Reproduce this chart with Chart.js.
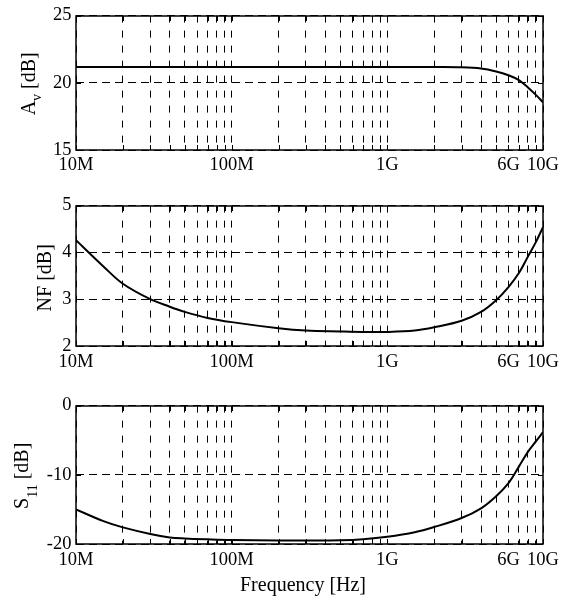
<!DOCTYPE html>
<html><head><meta charset="utf-8">
<script src="https://cdn.jsdelivr.net/npm/chart.js@4.4.1/dist/chart.umd.min.js"></script>
<style>
html,body{margin:0;padding:0;background:#fff;}
#wrap{position:relative;width:574px;height:597px;overflow:hidden;}
canvas{position:absolute;left:0;}
</style></head><body>
<div id="wrap">
<canvas id="c1" width="574" height="190" style="top:0px"></canvas>
<canvas id="c2" width="574" height="200" style="top:190px"></canvas>
<canvas id="c3" width="574" height="207" style="top:390px"></canvas>
</div>
<script>
// ---- data ----
const freqHz = [1e7,1.5e7,2e7,3e7,4e7,5e7,7e7,1e8,2e8,3e8,5e8,7e8,1e9,1.5e9,2e9,3e9,4e9,5e9,6e9,7e9,8e9,9e9,1e10];
const gainAv = [21.18,21.18,21.18,21.18,21.18,21.18,21.18,21.18,21.18,21.18,21.18,21.18,21.18,21.18,21.17,21.15,21.06,20.84,20.56,20.2,19.65,19.1,18.55];
const noiseFigure = [4.26,3.70,3.33,3.00,2.84,2.73,2.60,2.51,2.38,2.33,2.31,2.30,2.30,2.33,2.40,2.54,2.73,2.98,3.26,3.56,3.91,4.22,4.54];
const s11 = [-15.0,-16.7,-17.6,-18.55,-19.05,-19.2,-19.33,-19.43,-19.48,-19.48,-19.45,-19.3,-18.95,-18.3,-17.55,-16.25,-14.84,-13.09,-11.2,-8.82,-6.69,-5.17,-3.84];

const xGridValues = [1e7,2e7,3e7,4e7,5e7,6e7,7e7,8e7,9e7,1e8,2e8,3e8,4e8,5e8,6e8,7e8,8e8,9e8,1e9,2e9,3e9,4e9,5e9,6e9,7e9,8e9,9e9,1e10];
const xLabelValues = [1e7,1e8,1e9,6e9,1e10];
const xLabelTexts = ['10M','100M','1G','6G','10G'];
const avTicks = [15,20,25];
const nfTicks = [2,3,4,5];
const s11Ticks = [-20,-10,0];

const FONT = '"Liberation Serif","Times New Roman",Times,serif';

// title layouts kept outside Chart.js options
const TITLES = {
  c1: { x: 35, dy: 1, segs: [ ['A',20,0], ['v',14,6], [' [dB]',20,0] ] },
  c2: { x: 51, dy: 2, segs: [ ['NF [dB]',20,0] ] },
  c3: { x: 28, dy: 1, segs: [ ['S',20,0], ['11',14,9], [' [dB]',20,0] ],
        xtitle: 'Frequency [Hz]', xtitleX: 303, xtitleY: 201 }
};

function drawRotTitle(ctx, x, cy, segs){
  const widths = [];
  let w = 0;
  for (const s of segs){ ctx.font = s[1]+'px '+FONT; const m = ctx.measureText(s[0]).width; widths.push(m); w += m; }
  ctx.save();
  ctx.translate(x, cy);
  ctx.rotate(-Math.PI/2);
  ctx.fillStyle = '#000';
  ctx.textBaseline = 'alphabetic';
  ctx.textAlign = 'left';
  let px = -w/2;
  segs.forEach((s,i)=>{ ctx.font = s[1]+'px '+FONT; ctx.fillText(s[0], px, s[2]); px += widths[i]; });
  ctx.restore();
}

const framePlugin = {
  id: 'frame',
  afterDatasetsDraw(chart){
    const {ctx, chartArea:a, scales} = chart;
    const td = TITLES[chart.canvas.id];
    ctx.save();
    ctx.strokeStyle = '#000';
    ctx.setLineDash([]);
    ctx.lineWidth = 1;
    const L = Math.round(a.left), R = Math.round(a.right), T = Math.round(a.top), B = Math.round(a.bottom);
    ctx.beginPath();
    scales.x.ticks.forEach(t=>{
      const x = Math.round(scales.x.getPixelForValue(t.value)) + 0.5;
      ctx.moveTo(x, T); ctx.lineTo(x, T+5);
      ctx.moveTo(x, B); ctx.lineTo(x, B-5);
    });
    scales.y.ticks.forEach(t=>{
      const y = Math.round(scales.y.getPixelForValue(t.value)) + 0.5;
      ctx.moveTo(L, y); ctx.lineTo(L+5, y);
      ctx.moveTo(R, y); ctx.lineTo(R-5, y);
    });
    ctx.stroke();
    ctx.lineWidth = 1.5;
    ctx.strokeRect(L, T, R-L, B-T);
    ctx.restore();
    if (td){
      drawRotTitle(ctx, td.x, (a.top+a.bottom)/2 + td.dy, td.segs);
      if (td.xtitle){
        ctx.save();
        ctx.font = '20px '+FONT;
        ctx.fillStyle = '#000';
        ctx.textAlign = 'center';
        ctx.textBaseline = 'alphabetic';
        ctx.fillText(td.xtitle, td.xtitleX, td.xtitleY);
        ctx.restore();
      }
    }
  }
};

function makeChart(id, values, yTicks, cfg){
  const ctx = document.getElementById(id);
  return new Chart(ctx, {
    type: 'line',
    data: {
      datasets: [{
        data: freqHz.map((f,i)=>({x:f, y:values[i]})),
        borderColor: '#000',
        borderWidth: 2,
        pointRadius: 0,
        fill: false,
        tension: 0.35
      }]
    },
    options: {
      responsive: false,
      animation: false,
      events: [],
      layout: { autoPadding: false, padding: { left: 0, right: 31, top: cfg.top, bottom: 0 } },
      plugins: {
        legend: { display: false },
        tooltip: { enabled: false }
      },
      scales: {
        x: {
          type: 'logarithmic',
          min: 1e7, max: 1e10,
          afterBuildTicks: s => { s.ticks = xGridValues.map(v=>({value:v})); },
          afterFit: s => { s.height = cfg.xh; },
          ticks: {
            autoSkip: false, maxRotation: 0, minRotation: 0,
            padding: cfg.xpad,
            color: '#000',
            font: { family: FONT, size: 18.5 },
            callback: (v) => {
              const i = xLabelValues.findIndex(lv => Math.abs(lv - v) / lv < 1e-6);
              return i >= 0 ? xLabelTexts[i] : '';
            }
          },
          grid: { display: true, drawOnChartArea: true, drawTicks: false, color: '#000', lineWidth: 1 },
          border: { display: false, dash: [7, 8] }
        },
        y: {
          type: 'linear',
          min: yTicks[0], max: yTicks[yTicks.length-1],
          afterBuildTicks: s => { s.ticks = yTicks.map(v=>({value:v})); },
          afterFit: s => { s.width = 76; },
          ticks: {
            padding: 4.5,
            color: '#000',
            font: { family: FONT, size: 18.5 },
            callback: v => String(v)
          },
          grid: { display: true, drawOnChartArea: true, drawTicks: false, color: '#000', lineWidth: 1 },
          border: { display: false, dash: [8, 5] }
        }
      }
    },
    plugins: [framePlugin]
  });
}

makeChart('c1', gainAv, avTicks, { top: 8, xh: 40, xpad: 4 });
makeChart('c2', noiseFigure, nfTicks, { top: 15, xh: 44, xpad: 5 });
makeChart('c3', s11, s11Ticks, { top: 13, xh: 53, xpad: 5 });
</script>
</body></html>
